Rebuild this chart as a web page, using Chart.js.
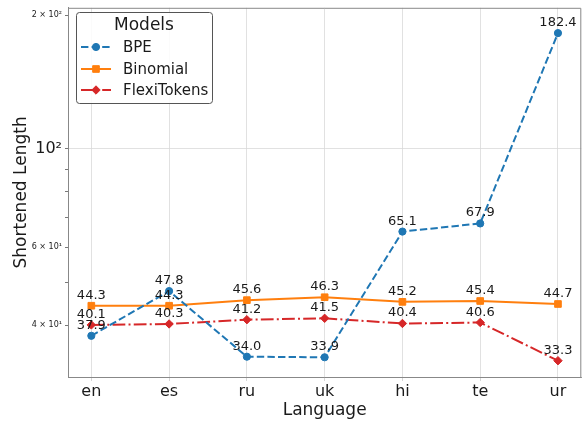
<!DOCTYPE html>
<html>
<head>
<meta charset="utf-8">
<script src="https://cdn.jsdelivr.net/npm/chart.js@4/dist/chart.umd.min.js"></script>
<style>
  html, body { margin: 0; padding: 0; background: #fff; }
  #wrap { width: 587px; height: 421px; }
</style>
</head>
<body>
<div id="wrap"><canvas id="c" width="587" height="421"></canvas></div>
<script>
// Languages on the x axis
const languages = ['en', 'es', 'ru', 'uk', 'hi', 'te', 'ur'];

// Shortened length per tokenizer
const bpe = [37.9, 47.8, 34.0, 33.9, 65.1, 67.9, 182.4];
const binomial = [44.3, 44.3, 45.6, 46.3, 45.2, 45.4, 44.7];
const flexiTokens = [40.1, 40.3, 41.2, 41.5, 40.4, 40.6, 33.3];

// Log-axis ticks and their labels (empty string = unlabeled minor tick)
const yTickValues = [40, 50, 60, 70, 80, 90, 100, 200];
const yTickLabels = { 40: '4 × 10¹', 60: '6 × 10¹', 100: '10²', 200: '2 × 10²' };

const FONT = "'DejaVu Sans', sans-serif";

function toPoints(arr) {
  return arr.map((v, i) => ({ x: i, y: v }));
}

// Numeric value printed above every marker
const valueLabels = {
  id: 'valueLabels',
  afterDatasetsDraw(chart) {
    const ctx = chart.ctx;
    ctx.save();
    ctx.font = '13px ' + FONT;
    ctx.fillStyle = '#1a1a1a';
    ctx.textAlign = 'center';
    ctx.textBaseline = 'alphabetic';
    chart.data.datasets.forEach((ds, di) => {
      const meta = chart.getDatasetMeta(di);
      meta.data.forEach((pt, i) => {
        ctx.fillText(ds.data[i].y.toFixed(1), pt.x, pt.y - 7);
      });
    });
    ctx.restore();
  }
};

// Top and right edges of the plot frame
const frame = {
  id: 'frame',
  afterDraw(chart) {
    const { left, right, top, bottom } = chart.chartArea;
    const ctx = chart.ctx;
    ctx.save();
    ctx.strokeStyle = '#888888';
    ctx.lineWidth = 1;
    ctx.beginPath();
    ctx.moveTo(left, top + 0.5);
    ctx.lineTo(right - 0.5, top + 0.5);
    ctx.lineTo(right - 0.5, bottom);
    ctx.stroke();
    ctx.restore();
  }
};

// Boxed legend with a title in the upper-left corner of the plot
const boxLegend = {
  id: 'boxLegend',
  afterDraw(chart) {
    const ctx = chart.ctx;
    const x0 = 76, y0 = 12, w = 136, h = 91;
    ctx.save();
    ctx.beginPath();
    ctx.roundRect(x0 + 0.5, y0 + 0.5, w, h, 3);
    ctx.fillStyle = 'rgba(255,255,255,0.85)';
    ctx.fill();
    ctx.strokeStyle = '#555';
    ctx.lineWidth = 1;
    ctx.stroke();

    ctx.fillStyle = '#1a1a1a';
    ctx.textAlign = 'center';
    ctx.textBaseline = 'middle';
    ctx.font = '17px ' + FONT;
    ctx.fillText('Models', x0 + w / 2, y0 + 14);

    const rows = [47, 69, 90];
    chart.data.datasets.forEach((ds, i) => {
      const y = rows[i];
      // sample line
      ctx.save();
      ctx.strokeStyle = ds.borderColor;
      ctx.lineWidth = ds.borderWidth;
      ctx.setLineDash(ds.borderDash || []);
      ctx.beginPath();
      ctx.moveTo(81, y);
      ctx.lineTo(111, y);
      ctx.stroke();
      ctx.restore();
      // sample marker
      ctx.save();
      ctx.fillStyle = ds.pointBackgroundColor;
      ctx.strokeStyle = ds.pointBorderColor;
      ctx.lineWidth = 1;
      ctx.setLineDash([]);
      Chart.helpers.drawPoint(ctx, {
        pointStyle: ds.pointStyle,
        radius: ds.pointRadius,
        borderWidth: 1
      }, 96, y);
      ctx.restore();
      // label
      ctx.fillStyle = '#1a1a1a';
      ctx.textAlign = 'left';
      ctx.font = '15px ' + FONT;
      ctx.fillText(ds.label, 123, y + 1);
    });
    ctx.restore();
  }
};

new Chart(document.getElementById('c'), {
  type: 'line',
  data: {
    datasets: [
      {
        label: 'BPE',
        data: toPoints(bpe),
        borderColor: '#1f77b4',
        backgroundColor: '#1f77b4',
        pointBackgroundColor: '#1f77b4',
        pointBorderColor: '#1f77b4',
        borderWidth: 2,
        borderDash: [7.4, 3.2],
        pointStyle: 'circle',
        pointRadius: 3.6,
        pointBorderWidth: 1
      },
      {
        label: 'Binomial',
        data: toPoints(binomial),
        borderColor: '#ff7f0e',
        backgroundColor: '#ff7f0e',
        pointBackgroundColor: '#ff7f0e',
        pointBorderColor: '#ff7f0e',
        borderWidth: 2,
        pointStyle: 'rect',
        pointRadius: 4.7,
        pointBorderWidth: 1
      },
      {
        label: 'FlexiTokens',
        data: toPoints(flexiTokens),
        borderColor: '#d62728',
        backgroundColor: '#d62728',
        pointBackgroundColor: '#d62728',
        pointBorderColor: '#d62728',
        borderWidth: 2,
        borderDash: [12.8, 3.2, 2, 3.2],
        pointStyle: 'rectRot',
        pointRadius: 4.2,
        pointBorderWidth: 1
      }
    ]
  },
  options: {
    responsive: false,
    animation: false,
    layout: { padding: { top: 4, right: 2, left: 0, bottom: 0 } },
    plugins: {
      legend: { display: false },
      tooltip: { enabled: false }
    },
    scales: {
      x: {
        type: 'linear',
        min: -0.3,
        max: 6.3,
        afterBuildTicks: axis => { axis.ticks = languages.map((_, i) => ({ value: i })); },
        afterFit: axis => { axis.height = 44; },
        ticks: {
          callback: v => languages[v] ?? '',
          font: { family: FONT, size: 16 },
          color: '#1a1a1a',
          padding: 1,
          maxRotation: 0,
          autoSkip: false
        },
        grid: {
          color: '#d9d9d9',
          lineWidth: 0.8,
          borderDash: [3, 2],
          tickColor: '#cccccc',
          tickBorderDash: [],
          tickLength: 4
        },
        border: { color: '#888888', width: 1 },
        title: {
          display: true,
          text: 'Language',
          font: { family: FONT, size: 17 },
          color: '#1a1a1a',
          padding: { top: 3, bottom: 0 }
        }
      },
      y: {
        type: 'logarithmic',
        min: 30.6,
        max: 208,
        afterBuildTicks: axis => { axis.ticks = yTickValues.map(v => ({ value: v })); },
        afterFit: axis => { axis.width = 68; },
        ticks: {
          callback: v => yTickLabels[v] ?? '',
          font: ctx => ({ family: FONT, size: (ctx.tick && ctx.tick.value === 100) ? 16 : 8 }),
          color: '#1a1a1a',
          padding: 3,
          autoSkip: false
        },
        grid: {
          color: ctx => (ctx.tick && ctx.tick.value === 100) ? '#d9d9d9' : 'rgba(0,0,0,0)',
          lineWidth: 0.8,
          borderDash: [3, 2],
          tickColor: '#555555',
          tickBorderDash: [],
          tickLength: 3
        },
        border: { color: '#888888', width: 1 },
        title: {
          display: true,
          text: 'Shortened Length',
          font: { family: FONT, size: 17 },
          color: '#1a1a1a',
          padding: { top: 11, bottom: 0 }
        }
      }
    }
  },
  plugins: [valueLabels, frame, boxLegend]
});
</script>
</body>
</html>
